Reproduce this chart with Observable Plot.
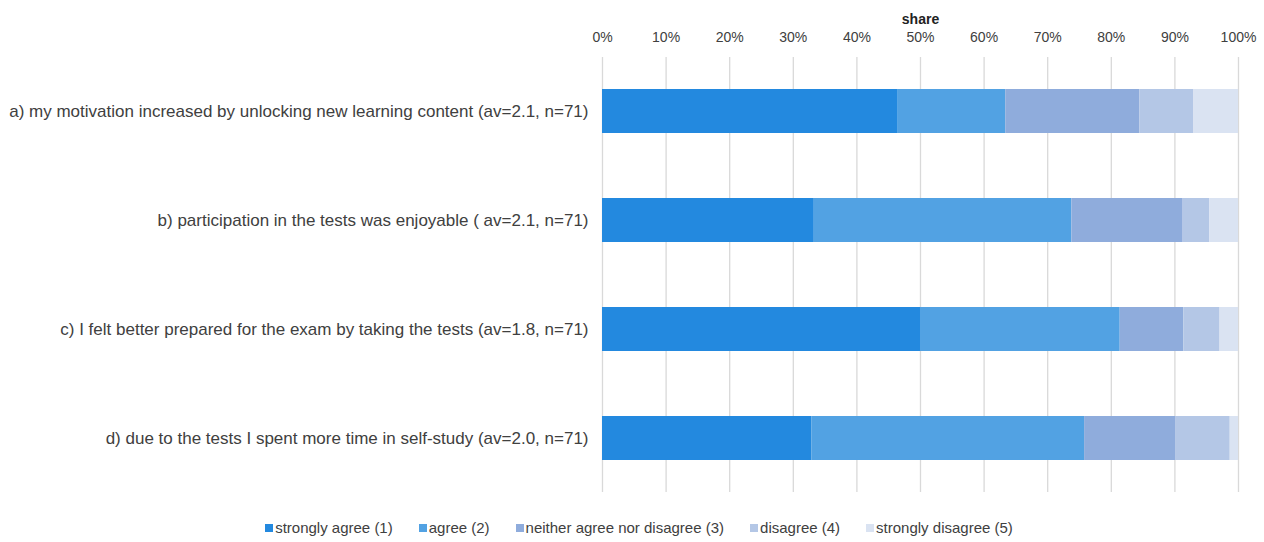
<!DOCTYPE html>
<html>
<head>
<meta charset="utf-8">
<script src="https://cdn.jsdelivr.net/npm/d3@7"></script>
<script src="https://cdn.jsdelivr.net/npm/@observablehq/plot@0.6"></script>
<style>
  html, body { margin: 0; padding: 0; background: #fff; }
  body { width: 1264px; height: 542px; overflow: hidden; font-family: "Liberation Sans", Arial, sans-serif; }
  #chart svg { display: block; }
  #legend { display: flex; justify-content: center; font-size: 15px; line-height: 17px; color: #404040; margin-top: 25px; padding-left: 14px; }
  #legend .item { display: flex; align-items: center; margin: 0 13px; }
  #legend .sw { width: 8px; height: 8px; margin-right: 2px; }
</style>
</head>
<body>
<div id="chart"></div>
<div id="legend"></div>
<script>
const statements = [
  "a) my motivation increased by unlocking new learning content (av=2.1, n=71)",
  "b) participation in the tests was enjoyable ( av=2.1, n=71)",
  "c) I felt better prepared for the exam by taking the tests (av=1.8, n=71)",
  "d) due to the tests I spent more time in self-study (av=2.0, n=71)"
];
const answers = ["strongly agree (1)", "agree (2)", "neither agree nor disagree (3)", "disagree (4)", "strongly disagree (5)"];
const colors = ["#2389DF", "#52A2E3", "#8FACDC", "#B4C7E6", "#DAE3F2"];
const shareA = [46.5, 16.9, 21.1, 8.5, 7.0];
const shareB = [33.3, 40.5, 17.5, 4.2, 4.5];
const shareC = [50.0, 31.4, 10.0, 5.7, 2.9];
const shareD = [32.9, 42.9, 14.3, 8.6, 1.3];
const xTicks = [0, 10, 20, 30, 40, 50, 60, 70, 80, 90, 100];

const series = [shareA, shareB, shareC, shareD];
const rows = [];
statements.forEach((s, i) => {
  series[i].forEach((v, j) => rows.push({statement: s, answer: answers[j], order: j, share: v}));
});

const chart = Plot.plot({
  width: 1264,
  height: 494,
  marginLeft: 602,
  marginRight: 26,
  marginTop: 57,
  marginBottom: 2,
  style: {fontFamily: "'Liberation Sans', Arial, sans-serif", color: "#404040", background: "#fff"},
  x: {domain: [0, 100], label: null},
  y: {domain: statements, paddingInner: 0.6, paddingOuter: 0.2775, label: null},
  color: {domain: answers, range: colors},
  marks: [
    Plot.ruleX(xTicks, {stroke: "#d9d9d9", strokeWidth: 1.3}),
    Plot.barX(rows, Plot.stackX({x: "share", y: "statement", fill: "answer", order: "order", inset: 0})),
    Plot.axisX({anchor: "top", ticks: xTicks, tickSize: 0, tickPadding: 16, tickFormat: d => d + "%", fontSize: 14, label: null}),
    Plot.text(["share"], {frameAnchor: "top", dy: -43, text: d => d, fontWeight: "bold", fontSize: 14, fill: "#222"}),
    Plot.axisY({tickSize: 0, tickPadding: 14, fontSize: 17, label: null})
  ]
});
document.getElementById("chart").appendChild(chart);

const legend = document.getElementById("legend");
answers.forEach((a, i) => {
  const it = document.createElement("div");
  it.className = "item";
  const sw = document.createElement("span");
  sw.className = "sw";
  sw.style.background = colors[i];
  const t = document.createElement("span");
  t.textContent = a;
  it.appendChild(sw); it.appendChild(t);
  legend.appendChild(it);
});
</script>
</body>
</html>
